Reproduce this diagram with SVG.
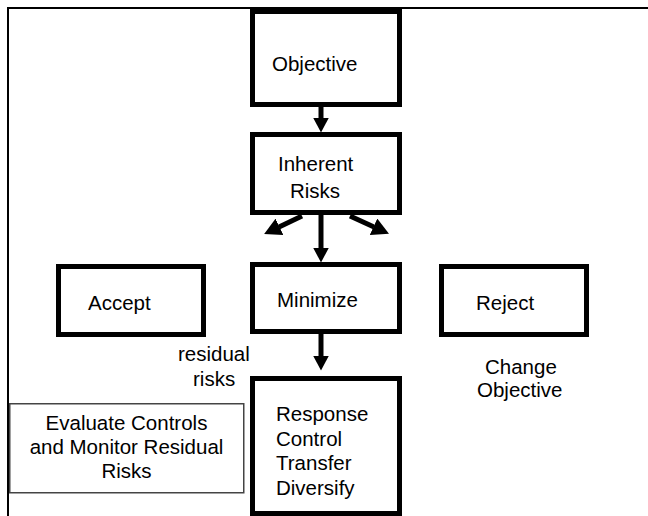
<svg xmlns="http://www.w3.org/2000/svg" width="648" height="516" viewBox="0 0 648 516">
<style>
.box{fill:#fff;stroke:#000;stroke-width:5}
.thin{fill:#fff;stroke:#444;stroke-width:1.5}
.t{font-family:"Liberation Sans",Arial,sans-serif;font-size:20.5px;fill:#000}
.c{text-anchor:middle}
.ln{stroke:#000;stroke-width:5;fill:none}
.frame{stroke:#000;stroke-width:2;fill:none}
</style>
<defs>
<marker id="ah" viewBox="0 0 15 16" refX="0.5" refY="8" markerWidth="15" markerHeight="16" markerUnits="userSpaceOnUse" orient="auto">
<path d="M0,0 L15,8 L0,16 Z" fill="#000"/>
</marker>
<marker id="ahb" viewBox="0 0 17 18" refX="0.5" refY="9" markerWidth="17" markerHeight="18" markerUnits="userSpaceOnUse" orient="auto">
<path d="M0,0 L17,9 L0,18 Z" fill="#000"/>
</marker>
</defs>
<path class="frame" d="M8,516 V8 H648"/>
<g id="objective"><rect class="box" x="252.5" y="11.5" width="147" height="93"/><text class="t" x="272" y="71">Objective</text></g>
<g id="inherent"><rect class="box" x="252.5" y="134.5" width="147" height="78"/><text class="t" x="278" y="171">Inherent</text><text class="t" x="290" y="198">Risks</text></g>
<g id="accept"><rect class="box" x="58.5" y="266.5" width="145" height="68"/><text class="t" x="88" y="310">Accept</text></g>
<g id="minimize"><rect class="box" x="252.5" y="264.5" width="147" height="67"/><text class="t" x="277" y="307">Minimize</text></g>
<g id="reject"><rect class="box" x="441.5" y="266.5" width="145" height="68"/><text class="t" x="476" y="310">Reject</text></g>
<g id="response"><rect class="box" x="252.5" y="378.5" width="147" height="135"/><text class="t" x="276" y="421">Response</text><text class="t" x="276" y="446">Control</text><text class="t" x="276" y="470">Transfer</text><text class="t" x="276" y="495">Diversify</text></g>
<g id="evaluate"><rect class="thin" x="9.75" y="403.75" width="234" height="89"/><text class="t c" x="126.5" y="430">Evaluate Controls</text><text class="t c" x="126.5" y="454">and Monitor Residual</text><text class="t c" x="126.5" y="478">Risks</text></g>
<g id="residual-label"><text class="t" x="178" y="361">residual</text><text class="t" x="193" y="386">risks</text></g>
<g id="change-label"><text class="t" x="485" y="374">Change</text><text class="t" x="477" y="397">Objective</text></g>
<g id="connectors">
<line class="ln" x1="321" y1="107" x2="321" y2="118" marker-end="url(#ah)"/>
<line class="ln" x1="321" y1="215" x2="321" y2="248" marker-end="url(#ah)"/>
<line class="ln" x1="302" y1="216" x2="279" y2="227" marker-end="url(#ahb)"/>
<line class="ln" x1="350" y1="216" x2="374" y2="227" marker-end="url(#ahb)"/>
<line class="ln" x1="321" y1="334" x2="321" y2="356" marker-end="url(#ah)"/>
</g>
</svg>
